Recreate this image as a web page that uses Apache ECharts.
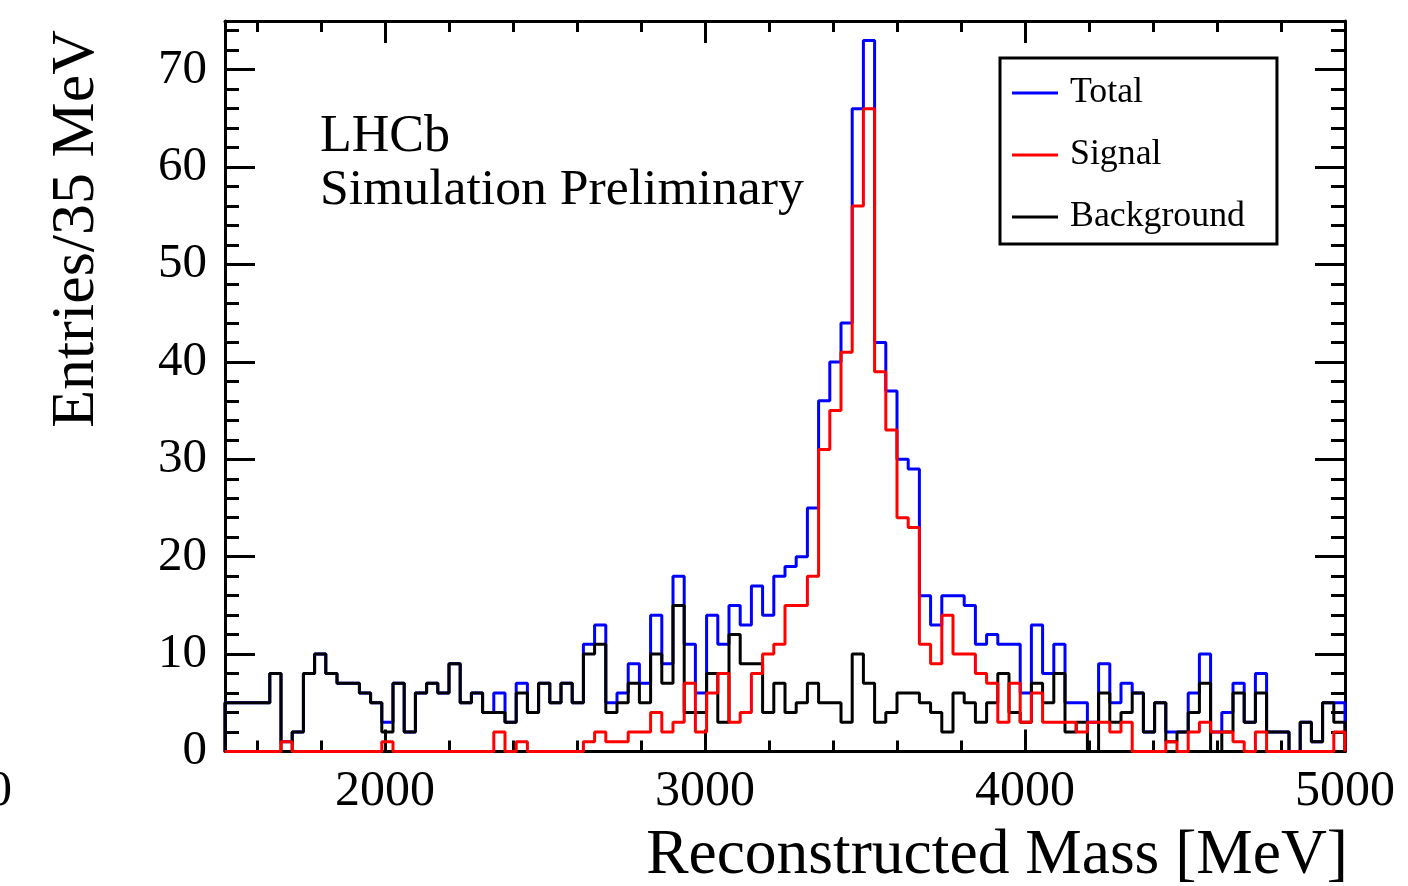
<!DOCTYPE html>
<html>
<head>
<meta charset="utf-8">
<script src="https://cdn.jsdelivr.net/npm/echarts@6/dist/echarts.min.js"></script>
<style>
html,body{margin:0;padding:0;background:#fff;}
#chart{width:1408px;height:886px;}
</style>
</head>
<body>
<div id="chart"></div>
<script>
// Histogram: 100 bins of 35 MeV from 1500 to 5000 MeV
const binStart = 1500;
const binWidth = 35;
const xMin = 1500, xMax = 5000;
const yMin = 0, yMax = 75;

const total = [
  5, 5, 5, 5, 8, 1, 2, 8, 10, 8, 7, 7, 6, 5, 3, 7, 2, 6, 7, 6,
  9, 5, 6, 4, 6, 3, 7, 4, 7, 5, 7, 5, 11, 13, 5, 6, 9, 7, 14, 9,
  18, 11, 6, 14, 11, 15, 13, 17, 14, 18, 19, 20, 25, 36, 40, 44, 66, 73, 42, 37,
  30, 29, 16, 13, 16, 16, 15, 11, 12, 11, 11, 6, 13, 8, 11, 5, 5, 3, 9, 5,
  7, 6, 2, 5, 2, 2, 6, 10, 2, 4, 7, 3, 8, 2, 2, 0, 3, 1, 5, 5
];
const signal = [
  0, 0, 0, 0, 0, 1, 0, 0, 0, 0, 0, 0, 0, 0, 1, 0, 0, 0, 0, 0,
  0, 0, 0, 0, 2, 0, 1, 0, 0, 0, 0, 0, 1, 2, 1, 1, 2, 2, 4, 2,
  3, 7, 2, 6, 8, 3, 4, 8, 10, 11, 15, 15, 18, 31, 35, 41, 56, 66, 39, 33,
  24, 23, 11, 9, 14, 10, 10, 8, 7, 3, 7, 3, 6, 3, 3, 3, 2, 3, 3, 2,
  3, 0, 0, 0, 1, 0, 2, 3, 2, 2, 1, 0, 2, 0, 0, 0, 0, 0, 0, 2
];
const background = [
  5, 5, 5, 5, 8, 0, 2, 8, 10, 8, 7, 7, 6, 5, 2, 7, 2, 6, 7, 6,
  9, 5, 6, 4, 4, 3, 6, 4, 7, 5, 7, 5, 10, 11, 4, 5, 7, 5, 10, 7,
  15, 4, 4, 8, 3, 12, 9, 9, 4, 7, 4, 5, 7, 5, 5, 3, 10, 7, 3, 4,
  6, 6, 5, 4, 2, 6, 5, 3, 5, 8, 4, 3, 7, 5, 8, 2, 3, 0, 6, 3,
  4, 6, 2, 5, 1, 2, 4, 7, 0, 2, 6, 3, 6, 2, 2, 0, 3, 1, 5, 3
];

const xMajorTicks = [2000, 3000, 4000, 5000];
const xMinorTicks = [1600, 1800, 2200, 2400, 2600, 2800, 3200, 3400, 3600, 3800, 4200, 4400, 4600, 4800];
const yMajorTicks = [0, 10, 20, 30, 40, 50, 60, 70];
const yMinorTicks = [2, 4, 6, 8, 12, 14, 16, 18, 22, 24, 26, 28, 32, 34, 36, 38, 42, 44, 46, 48,
                     52, 54, 56, 58, 62, 64, 66, 68, 72, 74];

const seriesNames = ['Total', 'Signal', 'Background'];
const seriesColors = { Total: '#0000ff', Signal: '#ff0000', Background: '#000000' };

const FONT = '"Liberation Serif", "DejaVu Serif", serif';

function stepData(values) {
  const pts = [[binStart, 0]];
  values.forEach((v, i) => pts.push([binStart + i * binWidth, v]));
  pts.push([binStart + values.length * binWidth, values[values.length - 1]]);
  pts.push([binStart + values.length * binWidth, 0]);
  return pts;
}

function xAxisDef(position, ticks, len, withLine, withLabels) {
  return {
    type: 'value', position: position, min: xMin, max: xMax,
    splitLine: { show: false },
    axisLine: { show: withLine, onZero: false, lineStyle: { color: '#000', width: 3 } },
    axisTick: { show: true, inside: true, length: len, customValues: ticks,
                lineStyle: { color: '#000', width: 3 } },
    axisLabel: withLabels ? { show: true, customValues: ticks, fontFamily: FONT, fontSize: 50,
                              color: '#000', margin: 15, formatter: v => String(v) } : { show: false }
  };
}
function yAxisDef(position, ticks, len, withLine, withLabels) {
  return {
    type: 'value', position: position, min: yMin, max: yMax,
    splitLine: { show: false },
    axisLine: { show: withLine, onZero: false, lineStyle: { color: '#000', width: 3 } },
    axisTick: { show: true, inside: true, length: len, customValues: ticks,
                lineStyle: { color: '#000', width: 3 } },
    axisLabel: withLabels ? { show: true, customValues: ticks, fontFamily: FONT, fontSize: 49,
                              color: '#000', margin: 18, formatter: v => String(v) } : { show: false }
  };
}

const chart = echarts.init(document.getElementById('chart'), null, { renderer: 'canvas' });

const seriesData = { Total: total, Signal: signal, Background: background };
const drawOrder = ['Total', 'Background', 'Signal'];

chart.setOption({
  animation: false,
  backgroundColor: '#ffffff',
  grid: { left: 225, top: 21, width: 1120, height: 730.5, containLabel: false },
  xAxis: [
    xAxisDef('bottom', xMajorTicks, 22, true, true),
    xAxisDef('bottom', xMinorTicks, 11, false, false),
    xAxisDef('top', xMajorTicks, 22, true, false),
    xAxisDef('top', xMinorTicks, 11, false, false)
  ],
  yAxis: [
    yAxisDef('left', yMajorTicks, 30, true, true),
    yAxisDef('left', yMinorTicks, 14, false, false),
    yAxisDef('right', yMajorTicks, 30, true, false),
    yAxisDef('right', yMinorTicks, 14, false, false)
  ],
  legend: {
    data: seriesNames,
    orient: 'vertical',
    left: 1000, top: 58,
    backgroundColor: '#fff',
    borderColor: '#000', borderWidth: 3,
    padding: [17, 32, 9, 12],
    itemGap: 26,
    itemWidth: 46, itemHeight: 3,
    icon: 'rect',
    textStyle: { fontFamily: FONT, fontSize: 35.8, color: '#000', padding: [0, 0, 0, 7] }
  },
  graphic: [
    { type: 'text', x: 320, y: 137,
      style: { text: 'LHCb', font: '52px ' + FONT, fill: '#000', verticalAlign: 'middle', align: 'left' } },
    { type: 'text', x: 320, y: 190,
      style: { text: 'Simulation Preliminary', font: '51.7px ' + FONT, fill: '#000', verticalAlign: 'middle', align: 'left' } },
    { type: 'text', x: 1348, y: 856,
      style: { text: 'Reconstructed Mass [MeV]', font: '63.5px ' + FONT, fill: '#000', verticalAlign: 'middle', align: 'right' } },
    { type: 'text', x: 77, y: 30, rotation: Math.PI / 2,
      style: { text: 'Entries/35 MeV', font: '62px ' + FONT, fill: '#000', verticalAlign: 'middle', align: 'right' } },
    { type: 'text', x: 12, y: 792,
      style: { text: '0', font: '50px ' + FONT, fill: '#000', verticalAlign: 'middle', align: 'right' } }
  ],
  series: drawOrder.map(name => ({
    name: name,
    type: 'line',
    step: 'end',
    xAxisIndex: 0, yAxisIndex: 0,
    showSymbol: false, symbol: 'none',
    color: seriesColors[name],
    lineStyle: { color: seriesColors[name], width: 3 },
    data: stepData(seriesData[name])
  }))
});
</script>
</body>
</html>
